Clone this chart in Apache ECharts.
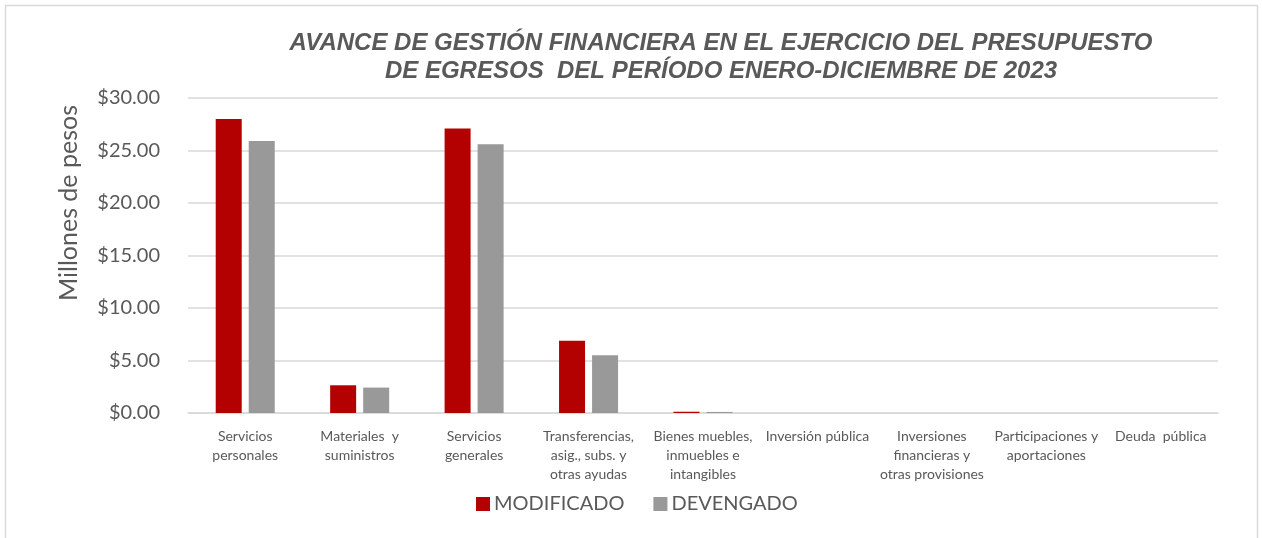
<!DOCTYPE html>
<html>
<head>
<meta charset="utf-8">
<script src="https://cdn.jsdelivr.net/npm/echarts@6/dist/echarts.min.js"></script>
<style>
  html, body { margin: 0; padding: 0; background: #fff; }
  #chart { width: 1262px; height: 538px; }
</style>
</head>
<body>
<div id="chart"></div>
<script>
// categorías (con saltos de línea como en el original)
var categorias = [
  'Servicios\npersonales',
  'Materiales  y\nsuministros',
  'Servicios\ngenerales',
  'Transferencias,\nasig., subs. y\notras ayudas',
  'Bienes muebles,\ninmuebles e\nintangibles',
  'Inversión pública',
  'Inversiones\nfinancieras y\notras provisiones',
  'Participaciones y\naportaciones',
  'Deuda  pública'
];
// millones de pesos
var modificado = [28.0, 2.64, 27.1, 6.87, 0.12, 0, 0, 0, 0];
var devengado = [25.9, 2.42, 25.6, 5.5, 0.1, 0, 0, 0, 0];

var chart = echarts.init(document.getElementById('chart'));

var option = {
  backgroundColor: '#fff',
  animation: false,
  title: {
    text: 'AVANCE DE GESTIÓN FINANCIERA EN EL EJERCICIO DEL PRESUPUESTO\nDE EGRESOS  DEL PERÍODO ENERO-DICIEMBRE DE 2023',
    left: 721,
    top: 29,
    padding: 0,
    textAlign: 'center',
    textStyle: {
      fontFamily: 'Liberation Sans',
      fontStyle: 'italic',
      fontWeight: 'bold',
      fontSize: 24,
      lineHeight: 28,
      color: '#595959'
    }
  },
  legend: {
    data: ['MODIFICADO', 'DEVENGADO'],
    left: 476,
    top: 494,
    padding: 0,
    itemWidth: 14,
    itemHeight: 14,
    itemGap: 29,
    icon: 'rect',
    textStyle: { fontFamily: 'Lato', fontSize: 20, color: '#595959', padding: [0, 0, 0, -1] }
  },
  grid: { left: 188, right: 44, top: 98, bottom: 125 },
  xAxis: {
    type: 'category',
    data: categorias,
    axisLine: { lineStyle: { color: '#d9d9d9', width: 1.5 } },
    axisTick: { show: false },
    axisLabel: {
      interval: 0,
      fontFamily: 'Lato',
      fontSize: 14,
      lineHeight: 19,
      color: '#595959',
      margin: 14
    }
  },
  yAxis: {
    type: 'value',
    min: 0,
    max: 30,
    interval: 5,
    axisLine: { show: false },
    axisTick: { show: false },
    splitLine: { lineStyle: { color: '#d9d9d9', width: 1.5 } },
    axisLabel: {
      fontFamily: 'Lato',
      fontSize: 20,
      color: '#595959',
      margin: 28,
      formatter: function (v) { return '$' + v.toFixed(2); }
    }
  },
  series: [
    {
      name: 'MODIFICADO',
      type: 'bar',
      data: modificado,
      barWidth: 26,
      barGap: '27%',
      itemStyle: { color: '#b30000' }
    },
    {
      name: 'DEVENGADO',
      type: 'bar',
      data: devengado,
      barWidth: 26,
      itemStyle: { color: '#999999' }
    }
  ],
  graphic: [
    {
      type: 'rect',
      z: -10,
      shape: { x: 5.5, y: 5.5, width: 1252, height: 560 },
      style: { fill: 'none', stroke: '#d9d9d9', lineWidth: 1.5 }
    },
    {
      type: 'text',
      x: 56,
      y: 203,
      rotation: Math.PI / 2,
      style: {
        text: 'Millones de pesos',
        font: '25px Lato',
        fill: '#595959',
        align: 'center',
        verticalAlign: 'top'
      }
    }
  ]
};

chart.setOption(option);
</script>
</body>
</html>
